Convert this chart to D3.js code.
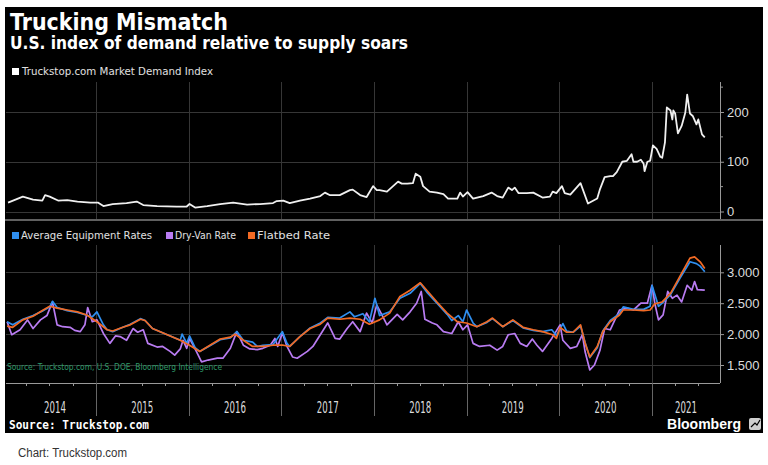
<!DOCTYPE html>
<html><head><meta charset="utf-8">
<script src="https://cdn.jsdelivr.net/npm/d3@7"></script>
<style>body{margin:0;background:#fff}svg{display:block}</style>
</head><body><svg id="c" width="768" height="465"></svg>
<script>
// ---------- DATA ----------
const yearLabels = ["2014","2015","2016","2017","2018","2019","2020","2021"];
const demandTicks = [0, 100, 200];
const demandMinorTicks = [50, 150, 250];
const rateTicks = [1.5, 2.0, 2.5, 3.0];

// [decimal year, value]
const demandIndex = [[2014.05,18],[2014.13,24],[2014.21,30],[2014.32,24],[2014.42,22],[2014.45,33],[2014.50,30],[2014.59,22],[2014.69,23],[2014.80,20],[2014.94,18],[2015.02,18],[2015.08,11],[2015.18,15],[2015.33,17],[2015.44,20],[2015.51,13],[2015.66,11],[2015.87,10],[2015.98,10],[2016.01,15],[2016.07,8],[2016.20,11],[2016.34,15],[2016.48,18],[2016.63,14],[2016.77,15],[2016.91,17],[2016.95,21],[2017.02,22],[2017.09,17],[2017.20,22],[2017.31,26],[2017.42,31],[2017.47,38],[2017.52,33],[2017.63,33],[2017.74,43],[2017.77,44],[2017.85,33],[2017.92,29],[2017.99,51],[2018.03,43],[2018.06,43],[2018.14,40],[2018.26,60],[2018.30,56],[2018.36,56],[2018.42,57],[2018.45,76],[2018.50,70],[2018.53,51],[2018.60,40],[2018.68,38],[2018.75,35],[2018.80,26],[2018.90,26],[2018.93,38],[2018.96,30],[2019.01,39],[2019.07,26],[2019.18,31],[2019.27,38],[2019.33,31],[2019.39,28],[2019.45,48],[2019.49,43],[2019.52,48],[2019.56,37],[2019.65,37],[2019.72,38],[2019.82,28],[2019.90,30],[2019.93,40],[2019.97,37],[2020.03,51],[2020.06,37],[2020.12,34],[2020.23,57],[2020.31,16],[2020.41,26],[2020.44,45],[2020.49,69],[2020.55,71],[2020.58,71],[2020.62,79],[2020.68,100],[2020.73,102],[2020.78,115],[2020.80,100],[2020.84,100],[2020.88,104],[2020.91,96],[2020.92,81],[2020.95,100],[2020.98,102],[2021.01,133],[2021.05,126],[2021.09,110],[2021.11,108],[2021.14,139],[2021.16,209],[2021.20,203],[2021.22,185],[2021.23,203],[2021.25,197],[2021.28,157],[2021.32,172],[2021.36,199],[2021.38,235],[2021.41,197],[2021.44,192],[2021.48,175],[2021.50,185],[2021.54,155],[2021.57,149]];

const flatbed = [[2014.04,2.13],[2014.10,2.11],[2014.21,2.23],[2014.32,2.29],[2014.43,2.39],[2014.50,2.45],[2014.58,2.42],[2014.69,2.39],[2014.80,2.36],[2014.90,2.31],[2015.01,2.20],[2015.12,2.07],[2015.18,2.05],[2015.29,2.11],[2015.37,2.15],[2015.48,2.24],[2015.53,2.22],[2015.61,2.09],[2015.77,1.99],[2015.91,1.90],[2016.01,1.82],[2016.12,1.72],[2016.23,1.82],[2016.34,1.92],[2016.45,1.95],[2016.50,2.00],[2016.59,1.90],[2016.69,1.80],[2016.80,1.80],[2016.91,1.82],[2017.02,1.82],[2017.09,1.80],[2017.20,1.96],[2017.31,2.09],[2017.42,2.16],[2017.50,2.26],[2017.63,2.24],[2017.74,2.26],[2017.85,2.24],[2017.95,2.16],[2018.06,2.23],[2018.17,2.34],[2018.28,2.61],[2018.39,2.71],[2018.50,2.83],[2018.57,2.71],[2018.68,2.52],[2018.79,2.34],[2018.90,2.20],[2019.00,2.18],[2019.11,2.12],[2019.22,2.20],[2019.28,2.26],[2019.39,2.12],[2019.50,2.23],[2019.61,2.11],[2019.72,2.07],[2019.82,2.04],[2019.93,1.99],[2019.97,1.93],[2020.01,2.11],[2020.08,2.03],[2020.15,2.03],[2020.23,2.15],[2020.28,1.85],[2020.33,1.63],[2020.41,1.80],[2020.47,2.04],[2020.55,2.20],[2020.65,2.31],[2020.69,2.39],[2020.80,2.39],[2020.91,2.38],[2020.98,2.39],[2021.03,2.49],[2021.11,2.52],[2021.20,2.66],[2021.30,2.93],[2021.41,3.23],[2021.46,3.25],[2021.52,3.17],[2021.57,3.06]];

const avgEquipment = [[2014.04,2.20],[2014.10,2.15],[2014.21,2.24],[2014.32,2.30],[2014.43,2.38],[2014.50,2.44],[2014.53,2.53],[2014.58,2.43],[2014.69,2.38],[2014.80,2.35],[2014.91,2.30],[2014.96,2.28],[2015.01,2.36],[2015.08,2.15],[2015.12,2.07],[2015.18,2.04],[2015.29,2.11],[2015.37,2.16],[2015.48,2.25],[2015.53,2.22],[2015.61,2.09],[2015.77,1.99],[2015.91,1.90],[2015.93,2.00],[2015.98,1.85],[2016.01,1.97],[2016.07,1.78],[2016.12,1.72],[2016.23,1.81],[2016.34,1.91],[2016.45,1.94],[2016.52,2.04],[2016.59,1.90],[2016.69,1.87],[2016.74,1.80],[2016.80,1.82],[2016.91,1.83],[2017.01,2.04],[2017.06,1.85],[2017.09,1.80],[2017.20,1.96],[2017.31,2.10],[2017.42,2.18],[2017.50,2.27],[2017.63,2.26],[2017.74,2.36],[2017.79,2.28],[2017.88,2.33],[2017.95,2.20],[2018.01,2.58],[2018.06,2.30],[2018.17,2.36],[2018.28,2.58],[2018.39,2.66],[2018.50,2.82],[2018.57,2.68],[2018.68,2.50],[2018.79,2.32],[2018.84,2.22],[2018.91,2.30],[2018.96,2.20],[2019.00,2.39],[2019.07,2.18],[2019.11,2.12],[2019.22,2.19],[2019.28,2.25],[2019.39,2.12],[2019.50,2.22],[2019.61,2.10],[2019.72,2.06],[2019.82,2.04],[2019.92,2.07],[2019.97,1.98],[2020.04,2.17],[2020.08,2.05],[2020.15,2.03],[2020.23,2.13],[2020.28,1.86],[2020.33,1.62],[2020.41,1.78],[2020.47,2.05],[2020.55,2.22],[2020.65,2.33],[2020.69,2.44],[2020.80,2.40],[2020.91,2.40],[2020.98,2.45],[2021.00,2.79],[2021.07,2.45],[2021.11,2.50],[2021.20,2.64],[2021.30,2.90],[2021.41,3.17],[2021.48,3.14],[2021.52,3.10],[2021.57,3.01]];

const dryVan = [[2014.04,2.20],[2014.09,1.99],[2014.18,2.07],[2014.26,2.23],[2014.32,2.09],[2014.40,2.23],[2014.47,2.30],[2014.53,2.52],[2014.58,2.15],[2014.64,2.12],[2014.72,2.11],[2014.77,2.06],[2014.83,2.04],[2014.88,2.15],[2014.91,2.43],[2014.96,2.20],[2015.01,2.23],[2015.08,2.01],[2015.15,1.85],[2015.21,1.97],[2015.26,1.96],[2015.33,1.90],[2015.40,2.09],[2015.45,2.03],[2015.51,2.07],[2015.56,1.85],[2015.66,1.79],[2015.72,1.80],[2015.80,1.72],[2015.85,1.66],[2015.91,1.76],[2015.94,1.90],[2015.98,1.77],[2016.01,1.93],[2016.07,1.76],[2016.14,1.55],[2016.21,1.58],[2016.31,1.61],[2016.37,1.61],[2016.45,1.77],[2016.52,2.04],[2016.59,1.82],[2016.66,1.76],[2016.74,1.75],[2016.80,1.77],[2016.88,1.82],[2016.93,1.93],[2016.96,1.80],[2017.01,2.02],[2017.06,1.80],[2017.12,1.63],[2017.17,1.61],[2017.28,1.72],[2017.34,1.80],[2017.42,1.99],[2017.50,2.18],[2017.58,1.93],[2017.63,1.92],[2017.71,2.09],[2017.77,2.20],[2017.85,2.04],[2017.92,2.34],[2017.98,2.18],[2018.03,2.47],[2018.09,2.30],[2018.14,2.15],[2018.25,2.32],[2018.31,2.23],[2018.39,2.36],[2018.46,2.50],[2018.51,2.69],[2018.55,2.24],[2018.63,2.18],[2018.68,2.15],[2018.75,2.04],[2018.84,2.01],[2018.91,2.20],[2018.96,2.07],[2019.01,2.15],[2019.07,1.85],[2019.14,1.80],[2019.25,1.82],[2019.33,1.74],[2019.39,1.80],[2019.45,1.99],[2019.52,2.01],[2019.58,1.85],[2019.65,1.80],[2019.71,1.92],[2019.76,1.82],[2019.82,1.72],[2019.92,1.93],[2020.01,2.15],[2020.04,1.90],[2020.12,1.77],[2020.19,1.80],[2020.25,1.99],[2020.28,1.71],[2020.33,1.42],[2020.38,1.50],[2020.44,1.74],[2020.49,2.09],[2020.55,2.07],[2020.60,2.23],[2020.65,2.39],[2020.73,2.42],[2020.80,2.39],[2020.88,2.50],[2020.95,2.50],[2021.00,2.79],[2021.03,2.50],[2021.07,2.23],[2021.12,2.31],[2021.17,2.69],[2021.22,2.58],[2021.27,2.63],[2021.32,2.52],[2021.38,2.79],[2021.43,2.71],[2021.46,2.85],[2021.49,2.72],[2021.57,2.71]];

const seriesColors = {avg:"#2f8ff0", van:"#b97cf2", flat:"#f26a24"};

// ---------- HELPERS ----------
function dec2date(d){
  const y = Math.floor(d);
  const s = Date.UTC(y,0,1), e = Date.UTC(y+1,0,1);
  return new Date(s + (d - y) * (e - s));
}
const svg = d3.select("#c");
const plotL = 6, plotR = 720;

const x = d3.scaleUtc()
  .domain([new Date(Date.UTC(2015,0,1)), new Date(Date.UTC(2021,0,1))])
  .range([96, 652]);
const yTop = d3.scaleLinear().domain([0,200]).range([211.5,112]);
const yBot = d3.scaleLinear().domain([1.5,3.0]).range([365,272.3]);

// background
svg.append("rect").attr("x",5).attr("y",7).attr("width",758).attr("height",426).attr("fill","#000");

// vertical gridlines
const yearStarts = d3.range(2015, 2022).map(y => new Date(Date.UTC(y,0,1)));
const grid = svg.append("g").attr("stroke","#363636").attr("stroke-width",1);
yearStarts.forEach(d => {
  const xx = Math.round(x(d)) + 0.5;
  grid.append("line").attr("x1",xx).attr("x2",xx).attr("y1",82).attr("y2",219);
  grid.append("line").attr("x1",xx).attr("x2",xx).attr("y1",245).attr("y2",383);
});
// horizontal gridlines
demandTicks.forEach(v => {
  const yy = Math.round(yTop(v)) + 0.5;
  grid.append("line").attr("x1",plotL).attr("x2",plotR).attr("y1",yy).attr("y2",yy);
});
rateTicks.forEach(v => {
  const yy = Math.round(yBot(v)) + 0.5;
  grid.append("line").attr("x1",plotL).attr("x2",plotR).attr("y1",yy).attr("y2",yy);
});

// panel separator
svg.append("line").attr("x1",5).attr("x2",763).attr("y1",220).attr("y2",220)
  .attr("stroke","#808080").attr("stroke-width",1.5);

// lines
const lineTop = d3.line().x(d => x(dec2date(d[0]))).y(d => yTop(d[1]));
const lineBot = d3.line().x(d => x(dec2date(d[0]))).y(d => yBot(d[1]));

svg.append("path").datum(demandIndex).attr("d",lineTop)
  .attr("fill","none").attr("stroke","#f0f0f0").attr("stroke-width",1.8).attr("stroke-linejoin","round");

svg.append("path").datum(dryVan).attr("d",lineBot)
  .attr("fill","none").attr("stroke",seriesColors.van).attr("stroke-width",1.7).attr("stroke-linejoin","round");
svg.append("path").datum(avgEquipment).attr("d",lineBot)
  .attr("fill","none").attr("stroke",seriesColors.avg).attr("stroke-width",1.7).attr("stroke-linejoin","round");
svg.append("path").datum(flatbed).attr("d",lineBot)
  .attr("fill","none").attr("stroke",seriesColors.flat).attr("stroke-width",1.7).attr("stroke-linejoin","round");

// right axes
const axTop = svg.append("g").attr("transform",`translate(${plotR},0)`)
  .call(d3.axisRight(yTop).tickValues(demandTicks).tickSize(4).tickPadding(3).tickFormat(d3.format("d")));
axTop.select(".domain").remove();
axTop.append("line").attr("x1",0.5).attr("x2",0.5).attr("y1",82).attr("y2",219).attr("stroke","#999");
demandMinorTicks.forEach(v => axTop.append("line").attr("x1",0).attr("x2",3).attr("y1",yTop(v)).attr("y2",yTop(v)).attr("stroke","#999"));

const axBot = svg.append("g").attr("transform",`translate(${plotR},0)`)
  .call(d3.axisRight(yBot).tickValues(rateTicks).tickSize(4).tickPadding(3).tickFormat(d3.format(".3f")));
axBot.select(".domain").remove();
axBot.append("line").attr("x1",0.5).attr("x2",0.5).attr("y1",245).attr("y2",383).attr("stroke","#999");

[axTop, axBot].forEach(a => {
  a.selectAll(".tick line").attr("stroke","#999");
  a.selectAll(".tick text").attr("fill","#ddd").attr("font-family","Liberation Sans, Arial, sans-serif").attr("font-size",13);
});

// bottom x axis
svg.append("line").attr("x1",plotL).attr("x2",plotR).attr("y1",383.5).attr("y2",383.5).attr("stroke","#999");
const qTicks = d3.utcMonth.every(3).range(x.invert(plotL), x.invert(plotR));
svg.append("g").selectAll("line").data(qTicks).join("line")
  .attr("x1", d => Math.round(x(d)) + 0.5).attr("x2", d => Math.round(x(d)) + 0.5)
  .attr("y1",383).attr("y2",386).attr("stroke","#999");
svg.append("g").selectAll("line").data(yearStarts).join("line")
  .attr("x1", d => Math.round(x(d)) + 0.5).attr("x2", d => Math.round(x(d)) + 0.5)
  .attr("y1",383).attr("y2",416).attr("stroke","#666");

svg.append("g").selectAll("text").data(yearLabels).join("text")
  .attr("x", d => {
    const a = Math.max(x(new Date(Date.UTC(+d,0,1))), plotL + 8);
    const b = Math.min(x(new Date(Date.UTC(+d + 1,0,1))), plotR);
    return (a + b) / 2;
  })
  .attr("y",413).attr("text-anchor","middle")
  .attr("fill","#ddd").attr("font-family","DejaVu Sans, sans-serif").attr("font-size",15)
  .attr("textLength",22).attr("lengthAdjust","spacingAndGlyphs")
  .text(d => d);

// titles
function txt(t, xx, yy, opts){
  const e = svg.append("text").attr("x",xx).attr("y",yy).text(t)
    .attr("fill", opts.fill || "#fff")
    .attr("font-family", opts.family || "DejaVu Sans, sans-serif")
    .attr("font-size", opts.size)
    .attr("font-weight", opts.weight || "normal");
  if (opts.len) e.attr("textLength",opts.len).attr("lengthAdjust","spacingAndGlyphs");
  return e;
}
txt("Trucking Mismatch", 10, 30, {size:23, weight:"bold", len:218});
txt("U.S. index of demand relative to supply soars", 10, 49, {size:17, weight:"bold", len:398});

// top legend
svg.append("rect").attr("x",12).attr("y",68).attr("width",7).attr("height",7).attr("fill","#fff");
txt("Truckstop.com Market Demand Index", 22, 75, {size:11, fill:"#e0e0e0", len:191});

// bottom legend
const legendItems = [
  {label:"Average Equipment Rates", color:seriesColors.avg, x:12, len:131},
  {label:"Dry-Van Rate", color:seriesColors.van, x:166, len:61},
  {label:"Flatbed Rate", color:seriesColors.flat, x:248, len:73}
];
legendItems.forEach(it => {
  svg.append("rect").attr("x",it.x).attr("y",232).attr("width",7).attr("height",7).attr("fill",it.color);
  txt(it.label, it.x + 9, 239, {size:11, fill:"#e0e0e0", len:it.len});
});

// source in plot
txt("Source: Truckstop.com, U.S. DOE, Bloomberg Intelligence", 7, 369.5, {size:8, fill:"#2f9a6a", len:215});

// footer in black panel
txt("Source: Truckstop.com", 9, 429, {size:12, weight:"bold", family:"DejaVu Sans Mono, monospace", len:140});
txt("Bloomberg", 667, 429, {size:14, weight:"bold", family:"Liberation Sans, Arial, sans-serif", len:74});
svg.append("rect").attr("x",749).attr("y",418).attr("width",12).attr("height",12).attr("rx",2).attr("fill","#cfcfcf");
svg.append("path").attr("d","M751,427 L755,423 L757,425 L760,420").attr("stroke","#000").attr("stroke-width",1.2).attr("fill","none");

// caption below
txt("Chart: Truckstop.com", 18, 457, {size:12.5, fill:"#333", family:"Liberation Sans, Arial, sans-serif", len:109});
</script>
</body></html>
